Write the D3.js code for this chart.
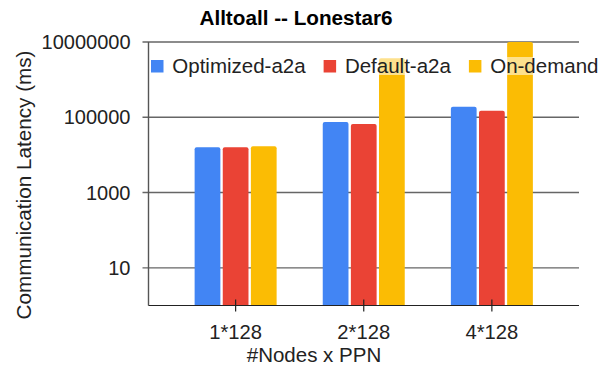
<!DOCTYPE html>
<html>
<head>
<meta charset="utf-8">
<script src="https://cdn.jsdelivr.net/npm/d3@7"></script>
<style>
  body { margin: 0; background: #fff; }
  text { font-family: "Liberation Sans", Arial, sans-serif; }
</style>
</head>
<body>
<script>
//--------------------------------------- data ---------------------------------------
const categories = ["1*128", "2*128", "4*128"];
const seriesNames = ["Optimized-a2a", "Default-a2a", "On-demand"];
const optimized = [16000, 75000, 190000];
const defaultA2a = [16000, 66000, 149000];
const onDemand = [17000, 3700000, 12000000];
const yTicks = [10, 1000, 100000, 10000000];
const colors = ["#4285F4", "#EA4335", "#FBBC04"];

const seriesValues = [optimized, defaultA2a, onDemand];

//--------------------------------------- init ---------------------------------------
const width = 601,
    height = 365;
const plotLeft = 148.5, plotRight = 579, plotTop = 42, plotBottom = 305.5;

//------------------------------------ scales ------------------------------
const yScale = d3.scaleLog().domain([1, 10000000]).range([plotBottom, plotTop]).clamp(true);
const xScale = d3.scaleBand().domain(categories).range([plotLeft, plotRight]).paddingInner(0.36).paddingOuter(0.36);
const xInner = d3.scaleBand().domain(seriesNames).range([0, xScale.bandwidth()]).paddingInner(0.085);

const svg = d3.select("body").append("svg")
    .attr("width", width)
    .attr("height", height);

//------------------------------------ grid ------------------------------
svg.append("g")
  .selectAll("line")
  .data(yTicks)
  .join("line")
  .attr("x1", plotLeft - 6)
  .attr("x2", plotRight)
  .attr("y1", d => yScale(d))
  .attr("y2", d => yScale(d))
  .attr("stroke", "#666")
  .attr("stroke-width", 1.4);

svg.append("g")
  .selectAll("text")
  .data(yTicks)
  .join("text")
  .attr("x", plotLeft - 18)
  .attr("y", d => yScale(d))
  .attr("dy", "0.36em")
  .attr("text-anchor", "end")
  .attr("font-size", 20)
  .attr("fill", "#222")
  .text(d => d);

//------------------------------------ bars ------------------------------
const groups = svg.append("g")
  .selectAll("g")
  .data(categories)
  .join("g")
  .attr("transform", d => `translate(${xScale(d)},0)`);

groups.selectAll("path")
  .data((c, i) => seriesNames.map((s, j) => ({ s, j, v: seriesValues[j][i] })))
  .join("path")
  .attr("fill", d => colors[d.j])
  .attr("d", d => {
    const x0 = xInner(d.s), w = xInner.bandwidth();
    const y0 = yScale(d.v), r = 2;
    return `M${x0},${plotBottom} L${x0},${y0 + r} Q${x0},${y0} ${x0 + r},${y0} L${x0 + w - r},${y0} Q${x0 + w},${y0} ${x0 + w},${y0 + r} L${x0 + w},${plotBottom} Z`;
  });

//------------------------------------ axes ------------------------------
svg.append("line")
  .attr("x1", plotLeft).attr("x2", plotLeft)
  .attr("y1", plotTop).attr("y2", plotBottom)
  .attr("stroke", "#555").attr("stroke-width", 1.4);

svg.append("line")
  .attr("x1", plotLeft).attr("x2", plotRight)
  .attr("y1", plotBottom).attr("y2", plotBottom)
  .attr("stroke", "#222").attr("stroke-width", 1.2);

svg.append("g")
  .selectAll("line")
  .data(categories)
  .join("line")
  .attr("x1", d => xScale(d) + xScale.bandwidth() / 2)
  .attr("x2", d => xScale(d) + xScale.bandwidth() / 2)
  .attr("y1", plotBottom - 6)
  .attr("y2", plotBottom + 6)
  .attr("stroke", "#222")
  .attr("stroke-width", 1.2);

svg.append("g")
  .selectAll("text")
  .data(categories)
  .join("text")
  .attr("x", d => xScale(d) + xScale.bandwidth() / 2)
  .attr("y", 338.5)
  .attr("text-anchor", "middle")
  .attr("font-size", 20.2)
  .attr("fill", "#222")
  .text(d => d);

//------------------------------------ titles ------------------------------
svg.append("text")
  .attr("x", 296)
  .attr("y", 25)
  .attr("text-anchor", "middle")
  .attr("font-size", 20.7)
  .attr("font-weight", "bold")
  .attr("fill", "#000")
  .text("Alltoall -- Lonestar6");

svg.append("text")
  .attr("x", 314)
  .attr("y", 362)
  .attr("text-anchor", "middle")
  .attr("font-size", 20.5)
  .attr("fill", "#222")
  .text("#Nodes x PPN");

svg.append("text")
  .attr("transform", "translate(31,185) rotate(-90)")
  .attr("text-anchor", "middle")
  .attr("font-size", 20.7)
  .attr("fill", "#222")
  .text("Communication Latency (ms)");

//------------------------------------ legend ------------------------------
const legendBg = svg.append("rect")
  .attr("fill", "#fff").attr("fill-opacity", 0.55);
const legend = svg.append("g");
let lx = 151;
seriesNames.forEach((name, j) => {
  legend.append("rect")
    .attr("x", lx).attr("y", 60)
    .attr("width", 12.5).attr("height", 12.5)
    .attr("fill", colors[j]);
  const t = legend.append("text")
    .attr("x", lx + 21.3)
    .attr("y", 73)
    .attr("font-size", 20.5)
    .attr("fill", "#222")
    .text(name);
  lx += 21.3 + t.node().getComputedTextLength() + 18;
});
legendBg.attr("x", 150).attr("y", 57).attr("width", lx - 150).attr("height", 18);
</script>
</body>
</html>
